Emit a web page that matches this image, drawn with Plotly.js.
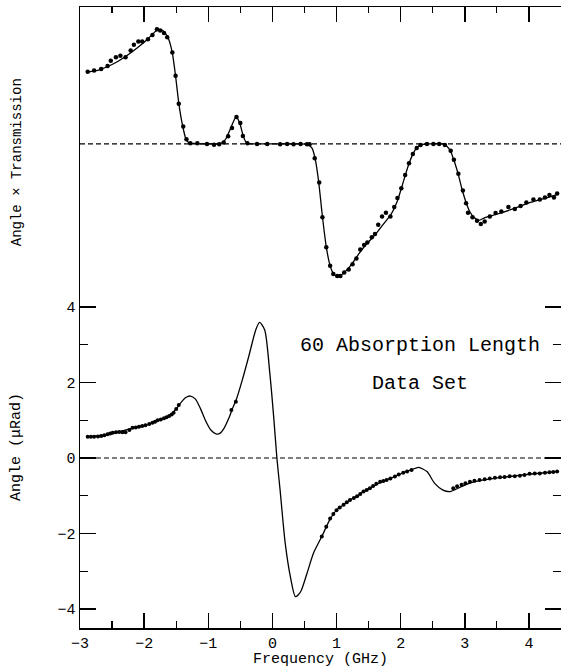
<!DOCTYPE html>
<html>
<head>
<meta charset="utf-8">
<script src="https://cdn.plot.ly/plotly-3.0.1.min.js"></script>
<style>html,body{margin:0;padding:0;background:#fff;}#chart{width:561px;height:668px;}</style>
</head>
<body>
<div id="chart"></div>
<script>
// ---- Top panel: Angle x Transmission (arbitrary units) ----
const topDataF = [-2.88,-2.78,-2.67,-2.57,-2.52,-2.44,-2.37,-2.29,-2.21,-2.16,-2.09,-2.03,-1.94,-1.87,-1.80,-1.75,-1.69,-1.64,-1.56,-1.51,-1.46,-1.39,-1.34,-1.28,-1.17,-1.02,-0.91,-0.83,-0.76,-0.69,-0.63,-0.56,-0.50,-0.46,-0.39,-0.24,-0.08,0.12,0.23,0.33,0.44,0.54,0.58,0.66,0.73,0.78,0.84,0.90,0.95,1.01,1.06,1.12,1.19,1.25,1.31,1.37,1.43,1.48,1.55,1.60,1.65,1.71,1.77,1.84,1.90,1.95,2.01,2.07,2.13,2.19,2.25,2.31,2.41,2.51,2.60,2.69,2.78,2.83,2.90,2.97,3.02,3.05,3.12,3.19,3.25,3.31,3.39,3.48,3.57,3.68,3.78,3.87,3.96,4.07,4.17,4.25,4.32,4.39,4.44];
const topDataV = [1.91,1.94,1.98,2.06,2.20,2.29,2.33,2.29,2.47,2.62,2.71,2.71,2.77,2.88,3.03,3.00,2.93,2.82,2.42,1.80,1.06,0.46,0.12,0.02,0.02,0.00,-0.02,-0.01,0.04,0.20,0.42,0.71,0.55,0.21,0.02,0.00,0.00,-0.01,0.00,-0.01,0.00,-0.01,-0.01,-0.38,-1.02,-1.94,-2.73,-3.22,-3.44,-3.49,-3.49,-3.40,-3.32,-3.18,-3.03,-2.79,-2.67,-2.61,-2.47,-2.38,-2.14,-1.92,-1.82,-1.92,-1.67,-1.43,-1.17,-0.82,-0.51,-0.27,-0.11,-0.03,0.00,0.00,0.00,-0.03,-0.18,-0.42,-0.79,-1.23,-1.57,-1.82,-1.94,-2.03,-2.12,-2.05,-1.92,-1.83,-1.79,-1.67,-1.72,-1.64,-1.55,-1.47,-1.47,-1.42,-1.35,-1.42,-1.31];
const topFitF = [-2.88,-2.70,-2.50,-2.30,-2.10,-1.95,-1.82,-1.74,-1.68,-1.62,-1.56,-1.51,-1.46,-1.40,-1.35,-1.30,-1.20,-1.00,-0.85,-0.78,-0.72,-0.66,-0.60,-0.57,-0.54,-0.50,-0.46,-0.42,-0.36,-0.20,0.30,0.55,0.62,0.67,0.72,0.78,0.84,0.90,0.96,1.02,1.08,1.15,1.25,1.35,1.45,1.55,1.65,1.75,1.85,1.95,2.01,2.07,2.13,2.19,2.25,2.32,2.45,2.65,2.72,2.78,2.84,2.90,2.96,3.02,3.08,3.15,3.22,3.30,3.50,3.75,4.00,4.25,4.44];
const topFitV = [1.90,1.96,2.10,2.30,2.55,2.76,2.98,3.02,2.95,2.78,2.40,1.80,1.08,0.48,0.14,0.03,0.01,0.00,0.00,0.03,0.15,0.38,0.62,0.70,0.66,0.50,0.24,0.07,0.01,0.00,0.00,-0.01,-0.12,-0.42,-0.98,-1.92,-2.72,-3.22,-3.45,-3.50,-3.46,-3.35,-3.15,-2.90,-2.68,-2.50,-2.30,-2.08,-1.86,-1.50,-1.18,-0.84,-0.52,-0.27,-0.10,-0.02,0.00,0.00,-0.06,-0.20,-0.48,-0.82,-1.22,-1.55,-1.80,-1.95,-2.02,-1.96,-1.86,-1.72,-1.56,-1.44,-1.34];

// ---- Bottom panel: Angle (microradians) ----
const botDataF = [-2.88,-2.83,-2.78,-2.72,-2.67,-2.62,-2.57,-2.53,-2.49,-2.44,-2.39,-2.34,-2.29,-2.23,-2.18,-2.13,-2.08,-2.03,-1.98,-1.92,-1.87,-1.83,-1.79,-1.74,-1.69,-1.65,-1.61,-1.57,-1.54,-1.50,-1.46,-0.64,-0.57,0.77,0.84,0.90,0.95,1.00,1.05,1.11,1.16,1.21,1.27,1.32,1.37,1.42,1.47,1.52,1.57,1.62,1.68,1.73,1.78,1.84,1.91,1.97,2.04,2.10,2.17,2.82,2.88,2.95,3.01,3.08,3.15,3.23,3.31,3.39,3.47,3.55,3.62,3.70,3.78,3.86,3.93,4.01,4.09,4.17,4.25,4.32,4.38,4.44];
const botDataV = [0.56,0.56,0.56,0.57,0.58,0.60,0.63,0.65,0.67,0.68,0.69,0.68,0.68,0.74,0.80,0.81,0.83,0.85,0.87,0.90,0.93,0.96,1.00,1.02,1.05,1.08,1.11,1.15,1.20,1.30,1.40,1.27,1.49,-2.08,-1.82,-1.60,-1.48,-1.38,-1.31,-1.24,-1.17,-1.11,-1.06,-1.01,-0.95,-0.89,-0.85,-0.80,-0.74,-0.68,-0.63,-0.61,-0.58,-0.54,-0.49,-0.44,-0.39,-0.36,-0.32,-0.80,-0.75,-0.71,-0.67,-0.63,-0.60,-0.58,-0.56,-0.54,-0.52,-0.51,-0.50,-0.48,-0.48,-0.47,-0.45,-0.42,-0.41,-0.41,-0.39,-0.38,-0.37,-0.36];
const botFitF = [-2.88,-2.60,-2.40,-2.13,-1.96,-1.79,-1.61,-1.50,-1.42,-1.35,-1.28,-1.20,-1.12,-1.04,-0.96,-0.88,-0.82,-0.75,-0.68,-0.62,-0.56,-0.47,-0.37,-0.26,-0.20,-0.12,-0.04,0.02,0.07,0.12,0.20,0.28,0.36,0.44,0.54,0.64,0.77,0.90,1.00,1.11,1.21,1.32,1.42,1.52,1.68,1.78,1.91,2.04,2.17,2.28,2.41,2.53,2.66,2.77,2.92,3.10,3.40,3.70,4.00,4.25,4.44];
const botFitV = [0.56,0.61,0.69,0.81,0.87,1.00,1.11,1.30,1.48,1.60,1.64,1.56,1.30,0.98,0.74,0.64,0.65,0.80,1.05,1.32,1.56,2.06,2.68,3.39,3.59,3.39,2.24,1.09,0.00,-0.85,-2.26,-3.14,-3.67,-3.54,-3.05,-2.52,-2.08,-1.62,-1.38,-1.24,-1.11,-1.01,-0.89,-0.80,-0.65,-0.58,-0.49,-0.39,-0.31,-0.25,-0.36,-0.67,-0.85,-0.89,-0.78,-0.65,-0.55,-0.49,-0.43,-0.39,-0.36];

const xTickVals = [-3,-2,-1,0,1,2,3,4];
const yTickVals = [-4,-2,0,2,4];

const FONT = "Liberation Mono, DejaVu Sans Mono, monospace";
const black = "#000";

const traces = [
  {x: topFitF, y: topFitV, xaxis:'x2', yaxis:'y2', mode:'lines', line:{color:black, width:1.3, shape:'spline', smoothing:0.6}, hoverinfo:'skip'},
  {x: topDataF, y: topDataV, xaxis:'x2', yaxis:'y2', mode:'markers', marker:{color:black, size:4.5}},
  {x: botFitF, y: botFitV, xaxis:'x', yaxis:'y', mode:'lines', line:{color:black, width:1.3, shape:'spline', smoothing:0.7}, hoverinfo:'skip'},
  {x: botDataF, y: botDataV, xaxis:'x', yaxis:'y', mode:'markers', marker:{color:black, size:4}}
];

const layout = {
  width:561, height:668,
  margin:{l:80, r:0, t:7, b:40},
  paper_bgcolor:'#fff', plot_bgcolor:'#fff',
  showlegend:false,
  font:{family:FONT, color:black, size:14},
  xaxis:{
    anchor:'y', range:[-3,4.5], showgrid:false, zeroline:false,
    showline:true, linecolor:black, linewidth:1.5,
    ticks:'inside', tickvals:xTickVals, ticklen:15, tickwidth:1.5, tickcolor:black,
    minor:{dtick:0.5, tick0:0, ticks:'inside', ticklen:7, tickwidth:1.2, tickcolor:black, showgrid:false},
    tickfont:{family:FONT, size:15}, ticklabelstandoff:0
  },
  xaxis2:{
    anchor:'y2', side:'top', matches:'x', range:[-3,4.5], showgrid:false, zeroline:false,
    showline:true, linecolor:black, linewidth:1.5,
    ticks:'inside', tickvals:xTickVals, ticklen:15, tickwidth:1.5, tickcolor:black,
    minor:{dtick:0.5, tick0:0, ticks:'inside', ticklen:6, tickwidth:1.2, tickcolor:black, showgrid:false},
    showticklabels:false
  },
  yaxis:{
    domain:[0,0.5475], range:[-4.5,4.5], showgrid:false, zeroline:false,
    showline:true, linecolor:black, linewidth:1.5, mirror:'ticks',
    ticks:'inside', tickvals:yTickVals, ticklen:16, tickwidth:1.3, tickcolor:black,
    minor:{dtick:1, tick0:0, ticks:'inside', ticklen:8, tickwidth:1.2, tickcolor:black, showgrid:false},
    tickfont:{family:FONT, size:15}
  },
  yaxis2:{
    domain:[0.5475,1], range:[-3.81,3.62], showgrid:false, zeroline:false,
    showline:true, linecolor:black, linewidth:1.5,
    ticks:'', showticklabels:false
  },
  shapes:[
    {type:'line', xref:'x domain', x0:0, x1:1, yref:'y', y0:0, y1:0, line:{color:black, width:1.2, dash:'5px,3px'}},
    {type:'line', xref:'x2 domain', x0:0, x1:1, yref:'y2', y0:0, y1:0, line:{color:black, width:1.2, dash:'5px,3px'}}
  ],
  annotations:[
    {xref:'paper', yref:'paper', x:0, xshift:-63, y:0.75, text:'Angle × Transmission', textangle:-90, showarrow:false, font:{family:FONT, size:14}, xanchor:'center', yanchor:'middle'},
    {xref:'paper', yref:'paper', x:0, xshift:-63, y:0.2915, text:'Angle (μRad)', textangle:-90, showarrow:false, font:{family:FONT, size:15}, xanchor:'center', yanchor:'middle'},
    {xref:'paper', yref:'paper', x:0.5, y:0, yshift:-31, text:'Frequency (GHz)', showarrow:false, font:{family:FONT, size:15}, xanchor:'center', yanchor:'middle'},
    {xref:'x', yref:'y', x:2.3, y:2.99, text:'60 Absorption Length', showarrow:false, font:{family:FONT, size:20}, xanchor:'center', yanchor:'middle'},
    {xref:'x', yref:'y', x:2.3, y:1.98, text:'Data Set', showarrow:false, font:{family:FONT, size:20}, xanchor:'center', yanchor:'middle'}
  ]
};

Plotly.newPlot('chart', traces, layout, {staticPlot:true, displayModeBar:false});
</script>
</body>
</html>
